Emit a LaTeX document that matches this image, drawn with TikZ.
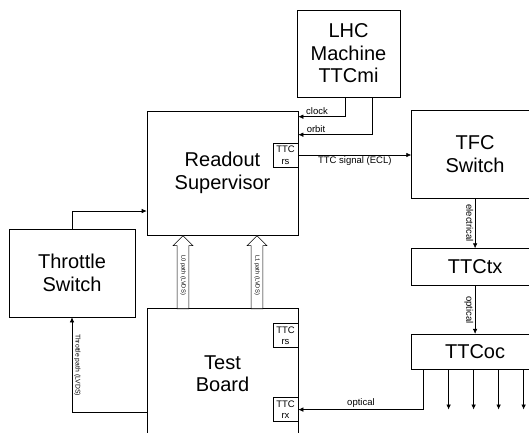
\documentclass[tikz,border=0pt]{standalone}
\usepackage{fontspec}
\setmainfont{Liberation Sans}
\usetikzlibrary{arrows.meta, positioning, shapes.arrows}

\begin{document}
\begin{tikzpicture}[
  x=1pt, y=-1pt,
  node distance=73pt and 113pt,
  block/.style={draw, line width=0.6pt, align=center, inner sep=0pt,
                font=\fontsize{20}{22.5}\selectfont},
  ttc/.style={draw, line width=0.6pt, align=center, inner sep=0pt, anchor=north east,
              minimum width=25pt, minimum height=24pt, font=\fontsize{9.5}{11.5}\selectfont},
  lbl/.style={inner sep=1.5pt, font=\fontsize{9.5}{11}\selectfont},
  arr/.style={-{Latex[length=5pt, width=4.5pt]}, line width=0.6pt},
  fat/.style={shape=single arrow, draw, fill=white, line width=0.6pt, rotate=-90,
              shape border rotate=180, anchor=tip, minimum height=73pt,
              single arrow head extend=4pt, inner xsep=2pt, inner ysep=3pt,
              text height=4pt, text depth=1.2pt, font=\fontsize{5.8}{7}\selectfont}
]
  \useasboundingbox (0,0) rectangle (529,432);

  \node[block, minimum width=103pt, minimum height=87pt] (lhc) at (348.5,53.5) {LHC\\Machine\\TTCmi};
  \node[block, minimum width=151pt, minimum height=124pt] (rs) at (222.5,173) {Readout\\Supervisor};
  \node[block, minimum width=151pt, minimum height=130pt, below=of rs] (tb) {Test\\Board};
  \node[block, minimum width=126pt, minimum height=88pt] (thr) at (72,273) {Throttle\\Switch};
  \node[block, minimum width=127pt, minimum height=88pt, right=of rs, yshift=19pt] (tfc) {TFC\\Switch};
  \node[block, minimum width=127pt, minimum height=37pt, below=50pt of tfc] (ttctx) {TTCtx};
  \node[block, minimum width=127pt, minimum height=35pt, below=48pt of ttctx] (ttcoc) {TTCoc};

  \node[ttc] (rsttc) at ([yshift=-32pt]rs.north east) {TTC\\rs};
  \node[ttc] (tbrs) at ([yshift=-15pt]tb.north east) {TTC\\rs};
  \node[ttc] (tbrx) at ([yshift=-89pt]tb.north east) {TTC\\rx};

  \node[fat] (lzero) at ([xshift=-39.5pt]rs.south) {L0 path (LVDS)};
  \node[fat] (lone) at ([xshift=34.5pt]rs.south) {L1 path (LVDS)};

  \draw[arr] ([xshift=-3.5pt]lhc.south) |- ([yshift=-6pt]rs.north east)
    node[lbl, pos=0.8, above] {clock};
  \draw[arr] ([xshift=23.5pt]lhc.south) |- ([yshift=-24pt]rs.north east)
    node[lbl, pos=0.88, above] {orbit};
  \draw[arr] (rsttc.east) -- (rsttc.east -| tfc.west)
    node[lbl, midway, below] {TTC signal (ECL)};
  \draw[arr] (tfc.south) -- (ttctx.north)
    node[lbl, midway, rotate=-90, below] {electrical};
  \draw[arr] (ttctx.south) -- (ttcoc.north)
    node[lbl, midway, rotate=-90, below] {optical};
  \foreach \dx in {-26.5,-1.5,23.5,48.5}
    \draw[arr] ([xshift=\dx pt]ttcoc.south) -- ++(0,40);
  \draw[arr] ([xshift=-51.5pt]ttcoc.south) |- (tbrx.east)
    node[lbl, pos=0.75, above] {optical};
  \draw[arr] (thr.north) |- ([yshift=-38pt]rs.west);
  \draw[arr] ([yshift=-39pt]tb.west) -| (thr.south)
    node[pos=0.75, rotate=-90, above, inner sep=2pt, font=\fontsize{6.8}{8}\selectfont] {Throttle path (LVDS)};
\end{tikzpicture}
\end{document}
